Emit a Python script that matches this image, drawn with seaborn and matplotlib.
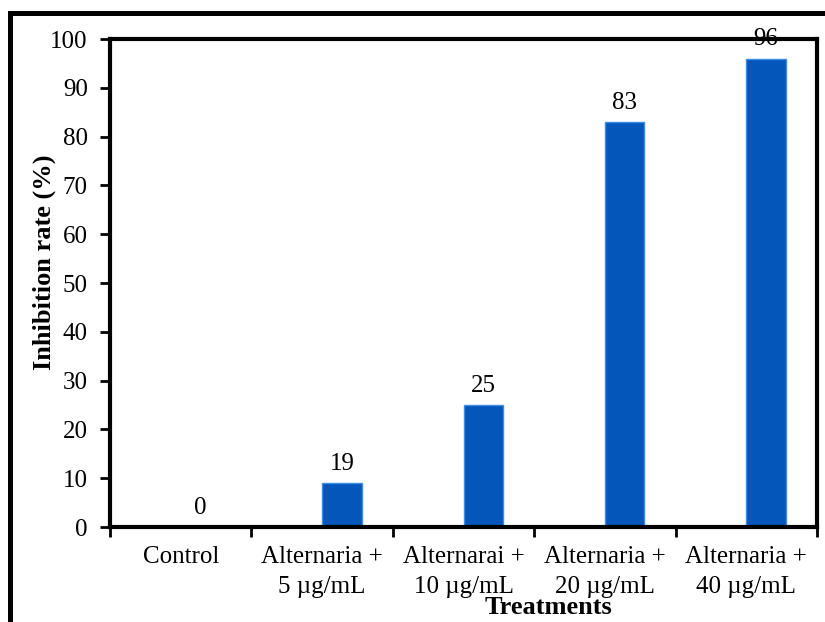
import matplotlib
matplotlib.use("Agg")
import matplotlib.pyplot as plt
import seaborn as sns
import pandas as pd
from matplotlib.patches import Rectangle

# === Dati ===
treatments = ["Control", "Alternaria +\n5 µg/mL", "Alternarai +\n10 µg/mL",
              "Alternaria +\n20 µg/mL", "Alternaria +\n40 µg/mL"]
inhibition = [0, 9, 25, 83, 96]
value_labels = ["0", "19", "25", "83", "96"]

df = pd.DataFrame({"Treatment": treatments, "Inhibition": inhibition})

sns.set_theme(style="white")
plt.rcParams["font.family"] = ["Liberation Serif", "DejaVu Serif"]
plt.rcParams["text.color"] = "black"
plt.rcParams["axes.labelcolor"] = "black"
plt.rcParams["xtick.color"] = "black"
plt.rcParams["ytick.color"] = "black"

fig = plt.figure(figsize=(8.25, 6.22), dpi=100)
ax = fig.add_axes([110/825, 1-527/622, (817-110)/825, (527-39)/622])

sns.barplot(data=df, x="Treatment", y="Inhibition", color="#0556BA",
            saturation=1, width=0.28, ax=ax, edgecolor="#3C8DE6", linewidth=1.0)

# barre spostate a destra del centro della categoria (stile Excel)
for p in ax.patches:
    p.set_x(p.get_x() + p.get_width() / 2)

for p, lab in zip(ax.patches, value_labels):
    ax.annotate(lab, (p.get_x() + p.get_width() / 2, p.get_height()),
                xytext=(0, 6), textcoords="offset points",
                ha="center", va="bottom", fontsize=18, annotation_clip=False)

ax.set_xlim(-0.5, len(treatments) - 0.5)
ax.set_ylim(0, 100)
ax.set_yticks(range(0, 101, 10))
ax.set_xticks([i - 0.5 for i in range(len(treatments) + 1)], minor=True)

ax.tick_params(axis="y", which="major", direction="out", length=7, width=2,
               pad=9, labelsize=18, left=True)
ax.tick_params(axis="x", which="major", length=0, pad=14, labelsize=18)
ax.tick_params(axis="x", which="minor", direction="out", length=7, width=2,
               bottom=True)
for lab in ax.get_xticklabels():
    lab.set_linespacing(1.45)

for s in ax.spines.values():
    s.set_visible(True)
    s.set_color("black")
    s.set_linewidth(3)

ax.set_ylabel("Inhibition rate (%)", fontsize=19, fontweight="bold")
ax.yaxis.set_label_coords((56-110)/(817-110), (527-262)/(527-39))
ax.set_xlabel("Treatments", fontsize=19, fontweight="bold")
ax.xaxis.set_label_coords((548-110)/(817-110), -(596-527)/(527-39))

# cornice esterna
fig.patches.append(Rectangle((10/825, -0.1), 1.2, 1 - 13/622 + 0.1,
                             transform=fig.transFigure, fill=False,
                             edgecolor="black", linewidth=3.6))

fig.savefig("out.png", dpi=100)
